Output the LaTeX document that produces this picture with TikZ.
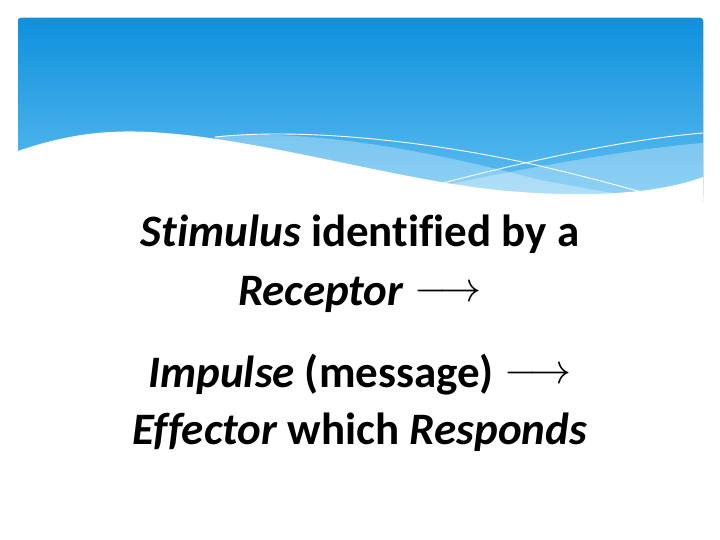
\RequirePackage{fix-cm}
\documentclass[tikz,border=0pt]{standalone}
\usepackage{fontspec}
\setmainfont[Ligatures=NoCommon]{Carlito}
\newcommand{\longarr}{\raisebox{4pt}{\fontsize{42}{42}\selectfont$\longrightarrow$}}
\begin{document}
\begin{tikzpicture}[x=1pt,y=-1pt,
  txt/.style={anchor=base,inner sep=0pt,font=\fontsize{45}{52}\selectfont\bfseries},
  wline/.style={draw=white,line width=0.9pt}]
\definecolor{hdtop}{HTML}{0E90DC}
\definecolor{hdbot}{HTML}{62C0F2}
\useasboundingbox (0,0) rectangle (720,540);
\fill[white] (0,0) rectangle (720,540);
% header
\fill[top color=hdtop,bottom color=hdbot,rounded corners=3pt] (18,18) rectangle (703,205);
% light bands
\fill[white,opacity=0.3] (215,137) .. controls (300,128) and (420,148) .. (540,180) -- (650,200) -- (215,200) -- cycle;
\fill[white,opacity=0.3] (440,186) .. controls (540,165) and (640,148) .. (703,143) -- (703,205) -- (440,205) -- cycle;
% white body wave
\fill[white] (18,151) .. controls (70,133) and (110,130) .. (150,132)
  .. controls (250,137) and (380,175) .. (480,188)
  .. controls (560,198) and (650,197) .. (703,177) -- (704,215) -- (17,215) -- cycle;
% white lines
\draw[wline] (215,137) .. controls (300,128) and (420,140) .. (527,163) .. controls (580,175) and (620,186) .. (645,193);
\draw[wline] (443,183) .. controls (520,163) and (620,140) .. (703,133);
% text
\node[txt] (l1) at (360,247) {\textit{Stimulus} identified by a};
\node[txt] (l2) at (360,305) {\textit{Receptor} \longarr};
\node[txt] (l3) at (360,387) {\textit{Impulse} (message) \longarr};
\node[txt] (l4) at (360,444) {\textit{Effector} which \textit{Responds}};
\end{tikzpicture}
\end{document}
